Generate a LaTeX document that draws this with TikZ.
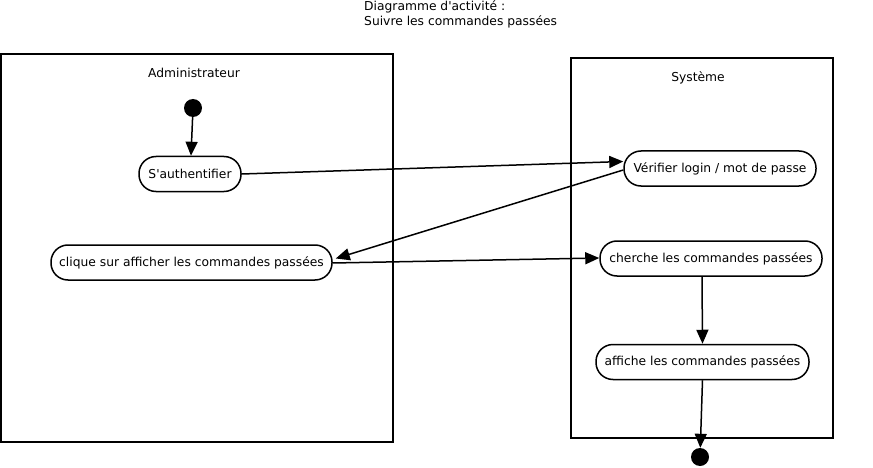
\documentclass[tikz,border=0pt]{standalone}
\usepackage{fontspec}
\setmainfont{DejaVu Sans}
\usetikzlibrary{arrows.meta}
\begin{document}
\begin{tikzpicture}[x=1pt,y=-1pt,
  lane/.style={draw,line width=1.5pt},
  act/.style={draw,line width=1.5pt,rounded corners=17pt,minimum height=35pt,inner sep=0pt,font=\fontsize{12.3}{14}\selectfont},
  dot/.style={circle,fill=black,inner sep=0pt,minimum size=18pt},
  lbl/.style={font=\fontsize{12.3}{14}\selectfont,inner sep=0pt},
  flow/.style={line width=1.5pt,-{Triangle[length=14pt,width=12pt]}}]
\useasboundingbox (0,0) rectangle (873,468);
% swimlanes
\node[lane,minimum width=392pt,minimum height=388pt,inner sep=0pt] (adminlane) at (197,248) {};
\node[lane,minimum width=262pt,minimum height=380pt,inner sep=0pt] (syslane) at (702,248) {};
\node[lbl] (admintitle) at (194,73) {Administrateur};
\node[lbl] (systitle) at (698,78) {Système};
% title
\node[lbl,anchor=north west,align=left,font=\fontsize{12.3}{15}\selectfont] (title) at (364,0) {Diagramme d\textquotesingle activité :\\Suivre les commandes passées};
% nodes
\node[dot] (start) at (193,108) {};
\node[act,minimum width=102pt] (auth) at (190,174) {S\textquotesingle authentifier};
\node[act,minimum width=281pt] (clic) at (191.5,262.5) {clique sur afficher les commandes passées};
\node[act,minimum width=192pt] (verif) at (720,168.5) {Vérifier login / mot de passe};
\node[act,minimum width=222pt] (cherche) at (711,258.5) {cherche les commandes passées};
\node[act,minimum width=213pt] (affiche) at (702.5,362) {affiche les commandes passées};
\node[dot] (end) at (700,457) {};
% flows
\draw[flow] (start) -- ([xshift=1pt]auth.north);
\draw[flow] (auth.east) -- ([yshift=7pt]verif.west);
\draw[flow] ([yshift=-1.5pt]verif.west) -- ([xshift=3pt,yshift=4pt]clic.east);
\draw[flow] ([yshift=-0.5pt]clic.east) -- ([yshift=0.5pt]cherche.west);
\draw[flow] ([xshift=-9pt]cherche.south) -- (affiche.north);
\draw[flow] (affiche.south) -- (end);
\end{tikzpicture}
\end{document}
